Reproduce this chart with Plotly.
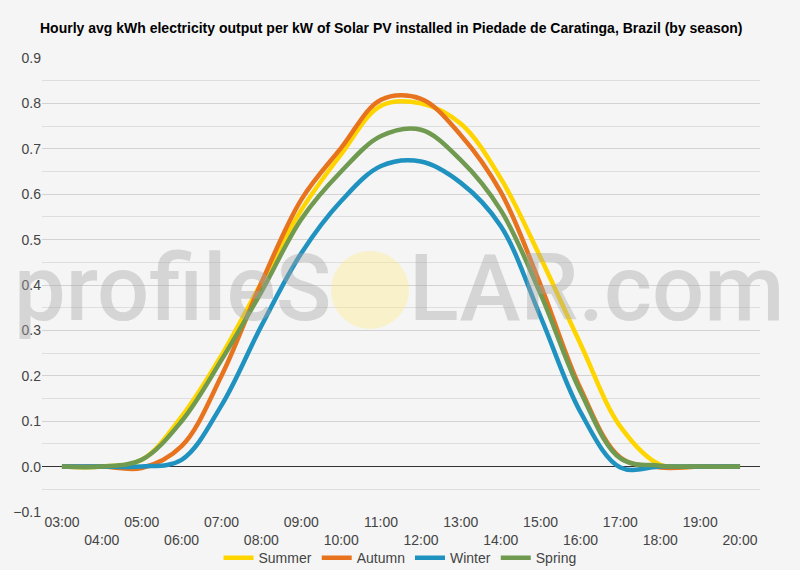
import plotly.graph_objects as go

hours = list(range(3, 21))
hour_labels = [f"{h:02d}:00" for h in hours]

summer = [0.0, 0.0, 0.015, 0.11, 0.245, 0.405, 0.565, 0.688, 0.795, 0.80, 0.755, 0.635, 0.46, 0.27, 0.088, 0.004, 0.0, 0.0]
autumn = [0.0, 0.0, -0.003, 0.045, 0.20, 0.405, 0.588, 0.702, 0.808, 0.81, 0.73, 0.605, 0.40, 0.172, 0.02, -0.002, 0.0, 0.0]
winter = [0.0, 0.0, 0.0, 0.015, 0.135, 0.31, 0.47, 0.585, 0.662, 0.672, 0.625, 0.53, 0.33, 0.12, -0.002, 0.0, 0.0, 0.0]
spring = [0.0, 0.0, 0.015, 0.10, 0.235, 0.385, 0.545, 0.65, 0.728, 0.742, 0.675, 0.565, 0.38, 0.165, 0.018, 0.002, 0.0, 0.0]

series = [
    ("Summer", summer, "#FFD500"),
    ("Autumn", autumn, "#E8731E"),
    ("Winter", winter, "#2092C0"),
    ("Spring", spring, "#6F9A4F"),
]

fig = go.Figure()
for name, vals, col in series:
    fig.add_trace(go.Scatter(
        x=hours, y=vals, name=name, mode="lines",
        line=dict(color=col, width=4.5, shape="spline", smoothing=1.0),
    ))

ticktext = [lab if (h % 2 == 1) else "<br>" + lab for h, lab in zip(hours, hour_labels)]

fig.update_layout(
    width=800, height=570,
    paper_bgcolor="#f5f5f5", plot_bgcolor="#f5f5f5",
    margin=dict(l=42, r=40, t=58, b=58),
    font=dict(family="Liberation Sans, Arial, sans-serif", size=14, color="#444"),
    title=dict(
        text="<b>Hourly avg kWh electricity output per kW of Solar PV installed in Piedade de Caratinga, Brazil (by season)</b>",
        x=0.05, xanchor="left", y=0.951, yanchor="middle",
        font=dict(size=14, color="#000"),
    ),
    showlegend=True,
    legend=dict(orientation="h", x=0.5, xanchor="center", xref="container",
                y=0.021, yanchor="middle", yref="container",
                font=dict(size=14, color="#444"), bgcolor="rgba(0,0,0,0)"),
    xaxis=dict(
        range=[2.5, 20.5], tickmode="array", tickvals=hours, ticktext=ticktext,
        showgrid=False, zeroline=False, showline=False, ticks="",
        tickfont=dict(size=14, color="#444"), automargin=False,
    ),
    yaxis=dict(
        range=[-0.1, 0.9], dtick=0.1, tick0=0, tickformat=".1f",
        showgrid=True, gridcolor="#d2d2d2", gridwidth=1,
        minor=dict(dtick=0.05, showgrid=True, gridcolor="#dedede", gridwidth=1),
        zeroline=True, zerolinecolor="#333", zerolinewidth=1,
        showline=False, ticks="", tickfont=dict(size=14, color="#444"),
        automargin=False,
    ),
)

# watermark
wm_font = dict(size=92, color="rgba(165,165,165,0.4)", family="Roboto, Liberation Sans, sans-serif", weight=500)
fig.add_shape(type="circle", xref="paper", yref="paper",
              x0=(331 - 42) / 718, x1=(409 - 42) / 718,
              y0=(512 - 329) / 454, y1=(512 - 251) / 454,
              fillcolor="rgba(255,236,120,0.35)", line=dict(width=0), layer="above")
fig.add_annotation(text="profileS", xref="paper", yref="paper",
                   x=(333 - 42) / 718, xanchor="right", y=(512 - 288) / 454, yanchor="middle",
                   showarrow=False, font=wm_font)
fig.add_annotation(text="LAR.com", xref="paper", yref="paper",
                   x=(407 - 42) / 718, xanchor="left", y=(512 - 288) / 454, yanchor="middle",
                   showarrow=False, font=wm_font)

fig.write_html("out.html")
